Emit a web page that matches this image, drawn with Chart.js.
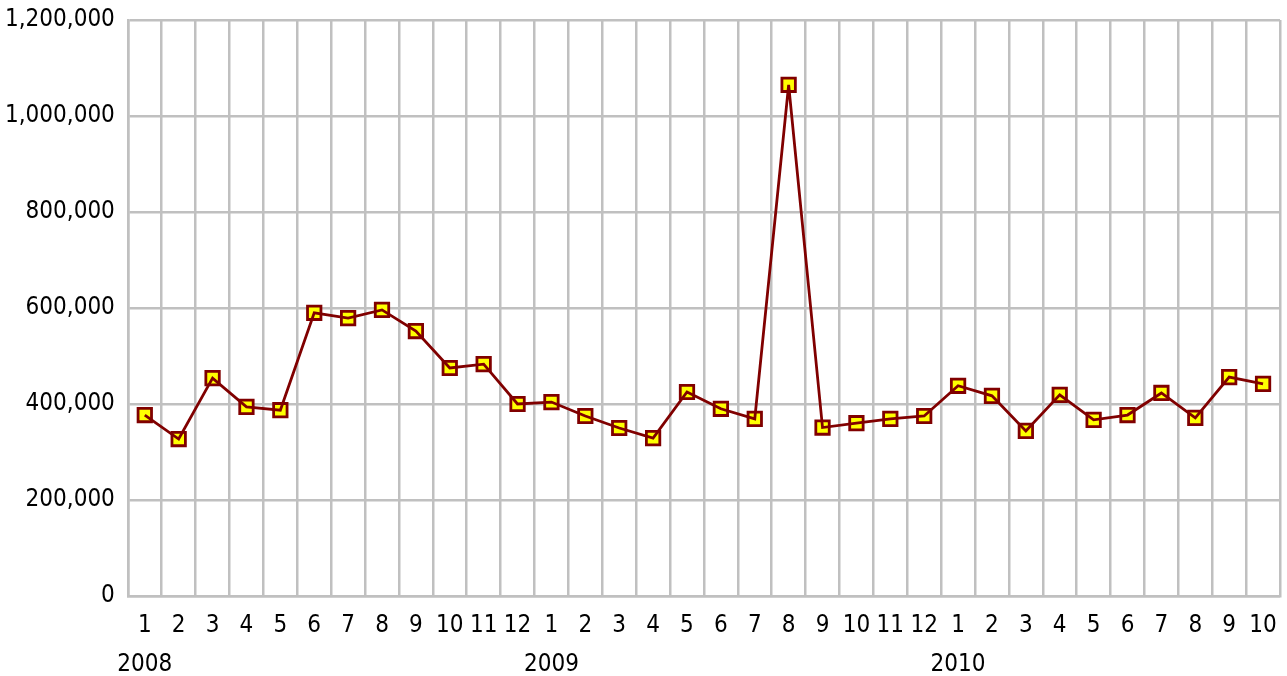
<!DOCTYPE html>
<html>
<head>
<meta charset="utf-8">
<script src="https://cdn.jsdelivr.net/npm/chart.js@4"></script>
<style>
  html, body { margin: 0; padding: 0; background: #fff; }
  #wrap { width: 1287px; height: 676px; }
</style>
</head>
<body>
<div id="wrap"><canvas id="chart"></canvas></div>
<script>
const months = ["1","2","3","4","5","6","7","8","9","10","11","12",
                "1","2","3","4","5","6","7","8","9","10","11","12",
                "1","2","3","4","5","6","7","8","9","10"];
const years = ["2008","","","","","","","","","","","",
               "2009","","","","","","","","","","","",
               "2010","","","","","","","","",""];
const values = [377000, 327000, 454000, 394000, 387000, 590000, 579000, 596000, 552000, 475000, 483000, 400000,
                404000, 375000, 350000, 329000, 425000, 390000, 369000, 1065000, 351000, 360000, 369000, 375000,
                438000, 417000, 344000, 419000, 367000, 377000, 423000, 371000, 456000, 442000];

const labels = months.map((m, i) => [m, years[i]]);

const gridColor = "#c0c0c0";
const fontFamily = "'DejaVu Sans Condensed', 'DejaVu Sans', sans-serif";

new Chart(document.getElementById("chart"), {
  type: "line",
  data: {
    labels: labels,
    datasets: [
      {
        // the line sits on top of the markers like in the original
        data: values,
        borderColor: "#800000",
        borderWidth: 2.8,
        pointRadius: 0,
        order: 0
      },
      {
        data: values,
        showLine: false,
        pointStyle: "rect",
        pointRadius: 9.5,
        pointBackgroundColor: "#ffff00",
        pointBorderColor: "#800000",
        pointBorderWidth: 2.8,
        order: 1
      }
    ]
  },
  options: {
    responsive: true,
    maintainAspectRatio: false,
    animation: false,
    layout: { autoPadding: false, padding: { top: 0, right: 7, left: -8, bottom: -18 } },
    plugins: {
      legend: { display: false },
      tooltip: { enabled: false }
    },
    scales: {
      x: {
        offset: true,
        grid: { offset: true, color: gridColor, lineWidth: 2.5, drawTicks: false },
        border: { color: gridColor, width: 2.5 },
        ticks: {
          color: "#000",
          font: { family: fontFamily, size: 24, lineHeight: 39 / 24 },
          padding: 10,
          maxRotation: 0,
          autoSkip: false
        }
      },
      y: {
        min: 0,
        max: 1200000,
        ticks: {
          stepSize: 200000,
          color: "#000",
          // small line height keeps the top label from pushing the plot down
          font: { family: fontFamily, size: 24, lineHeight: 14 / 24 },
          padding: 13,
          callback: v => v.toLocaleString("en-US")
        },
        grid: { color: gridColor, lineWidth: 2.5, drawTicks: false },
        border: { color: gridColor, width: 2.5 }
      }
    }
  }
});
</script>
</body>
</html>
